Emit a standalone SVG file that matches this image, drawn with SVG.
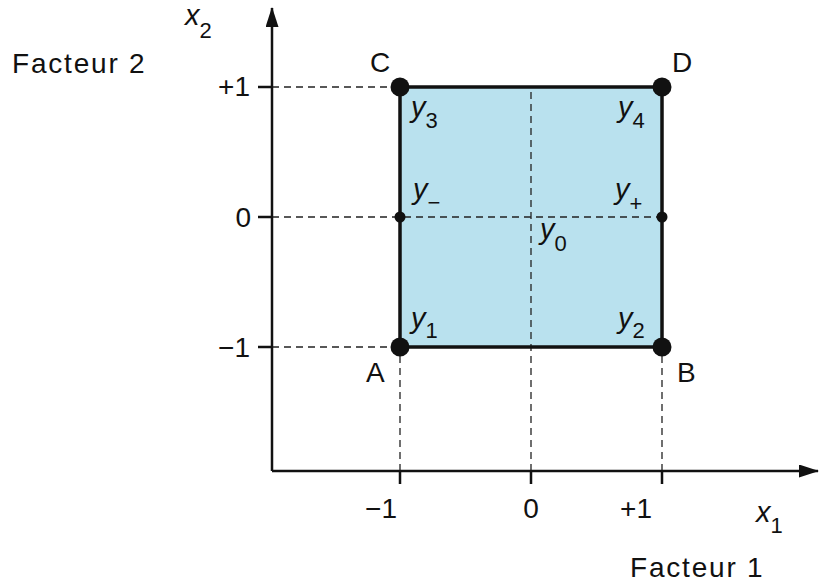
<svg xmlns="http://www.w3.org/2000/svg" width="821" height="583" viewBox="0 0 821 583">
<style>
text{font-family:"Liberation Sans",Arial,sans-serif;font-size:28px;fill:#111}
.it{font-style:italic;font-size:29px}
.sub{font-size:22px;font-style:normal}
.fac{letter-spacing:1.8px}
.axis{stroke:#111;stroke-width:2.5;fill:none}
.dash{stroke:#222;stroke-width:1.3;stroke-dasharray:7,5;fill:none}
</style>
<defs>
<marker id="ah" markerWidth="20" markerHeight="13" refX="19" refY="6.5" orient="auto" markerUnits="userSpaceOnUse">
<path d="M0,0 L20,6.5 L0,13 Z" fill="#111"/>
</marker>
</defs>
<rect x="400" y="87" width="262" height="260" fill="#b9e1ee"/>
<g id="connectors">
<path class="dash" d="M272,87 H400 M272,217 H662 M272,347 H400 M400,471 V347 M662,471 V347 M531,471 V87"/>
<path class="axis" d="M272,471 V8" marker-end="url(#ah)"/>
<path class="axis" d="M272,471 H818" marker-end="url(#ah)"/>
<path class="axis" d="M258,87 H272 M258,217 H272 M258,347 H272 M400,471 V484 M531,471 V484 M662,471 V484"/>
</g>
<g id="square">
<rect x="400" y="87" width="262" height="260" fill="none" stroke="#111" stroke-width="3.5"/>
</g>
<g id="A"><circle cx="400" cy="347" r="9.5" fill="#111"/><text x="366" y="382">A</text></g>
<g id="B"><circle cx="662" cy="347" r="9.5" fill="#111"/><text x="677" y="382">B</text></g>
<g id="C"><circle cx="400" cy="87" r="9.5" fill="#111"/><text x="370" y="72">C</text></g>
<g id="D"><circle cx="662" cy="87" r="9.5" fill="#111"/><text x="672" y="72">D</text></g>
<g id="Mminus"><circle cx="400" cy="217" r="5.5" fill="#111"/></g>
<g id="Mplus"><circle cx="662" cy="217" r="5.5" fill="#111"/></g>
<g id="labels">
<text class="it" x="411" y="117">y<tspan class="sub" dy="11">3</tspan></text>
<text class="it" x="618" y="117">y<tspan class="sub" dy="11">4</tspan></text>
<text class="it" x="413" y="199">y<tspan class="sub" dy="11" font-size="24">−</tspan></text>
<text class="it" x="615" y="199">y<tspan class="sub" dy="12" font-size="24">+</tspan></text>
<text class="it" x="540" y="239">y<tspan class="sub" dy="12">0</tspan></text>
<text class="it" x="411" y="328">y<tspan class="sub" dy="10">1</tspan></text>
<text class="it" x="618" y="328">y<tspan class="sub" dy="10">2</tspan></text>
<text class="it" x="185" y="25">x<tspan class="sub" dy="13">2</tspan></text>
<text class="it" x="756" y="522">x<tspan class="sub" dy="11">1</tspan></text>
<text class="fac" x="12" y="73">Facteur 2</text>
<text class="fac" x="630" y="577">Facteur 1</text>
<text x="250" y="96" text-anchor="end">+1</text>
<text x="251" y="227" text-anchor="end">0</text>
<text x="250" y="357" text-anchor="end">−1</text>
<text x="381" y="518" text-anchor="middle">−1</text>
<text x="531" y="518" text-anchor="middle">0</text>
<text x="636" y="518" text-anchor="middle">+1</text>
</g>
</svg>
